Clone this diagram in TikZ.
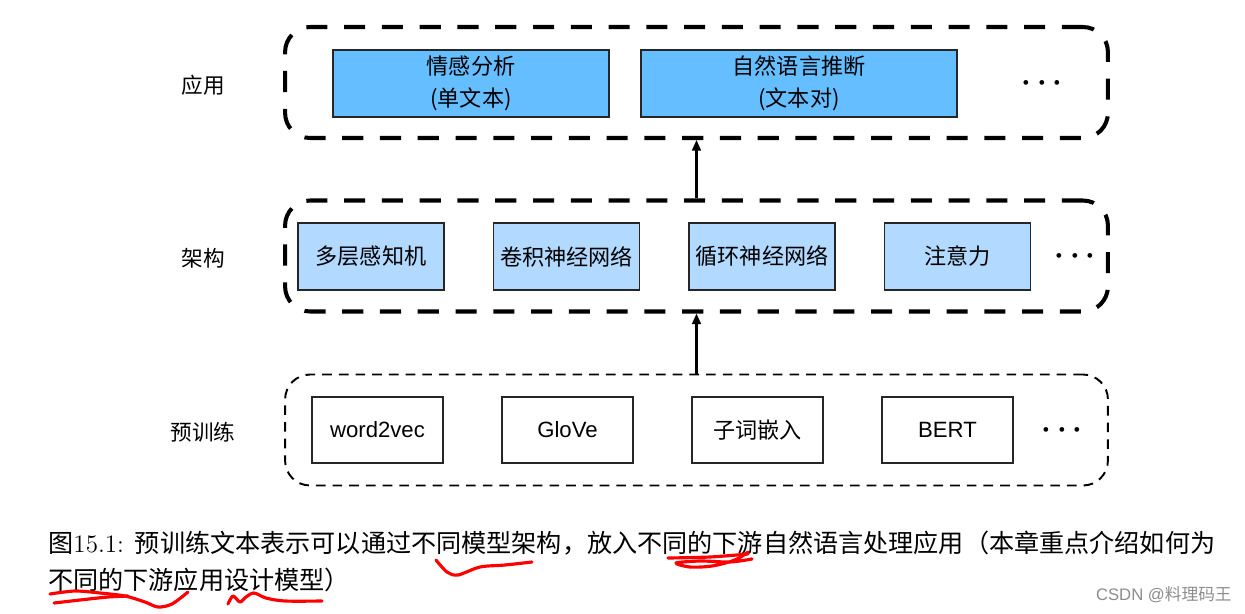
\documentclass[tikz,border=0pt]{standalone}
\usepackage{fontspec}
\setsansfont{Liberation Sans}
\newfontfamily\cjk{Noto Sans CJK SC}
\usetikzlibrary{arrows.meta}
\definecolor{appblue}{RGB}{100,190,255}
\definecolor{archblue}{RGB}{178,217,255}
\tikzset{
  layer/.style={draw,rounded corners=0.5cm,minimum width=16.46cm,minimum height=2.22cm},
  thickdash/.style={line width=2.3pt,dash pattern=on 12pt off 9.5pt},
  thindash/.style={line width=1.1pt,dash pattern=on 5.5pt off 4pt},
  modelbox/.style={draw=black!85,line width=1.1pt,minimum height=1.34cm,align=center,
    font=\sffamily\fontsize{12.6}{18.5}\selectfont},
  side/.style={font=\cjk\fontsize{12.3}{14}\selectfont},
  more/.style={font=\LARGE\boldmath},
  flow/.style={line width=1.2pt,-{Triangle[length=6pt,width=5pt]}},
  ink/.style={red,line width=1.8pt,line cap=round,line join=round}
}
\begin{document}
\begin{tikzpicture}[x=0.02cm,y=-0.02cm]
\useasboundingbox (0,0) rectangle (1245,613);
% layers
\node[layer,thickdash] (app) at (696.5,82.5) {};
\node[layer,thickdash] (arch) at (696.5,256) {};
\node[layer,thindash] (pre) at (696.5,430) {};
\node[side] (lapp) at (203,85) {应用};
\node[side] (larch) at (203,258) {架构};
\node[side] (lpre) at (203,432) {预训练};
% applications
\node[modelbox,fill=appblue,minimum width=5.52cm] (senti) at (471,83.5) {{\cjk 情感分析}\\{\cjk (单文本)}};
\node[modelbox,fill=appblue,minimum width=6.32cm] (nli) at (799,83.5) {{\cjk 自然语言推断}\\{\cjk (文本对)}};
\node[more] (dapp) at (1042,83) {$\cdots$};
% architectures
\foreach \name [count=\i] in {多层感知机,卷积神经网络,循环神经网络,注意力}
  \node[modelbox,fill=archblue,minimum width=2.92cm] (arch\i) at (175.5+195.5*\i,256.5) {\cjk \name};
\node[more] (darch) at (1075,256) {$\cdots$};
% pretraining
\foreach \name [count=\i] in {word2vec,GloVe,{\cjk 子词嵌入},BERT}
  \node[modelbox,minimum width=2.62cm,minimum height=1.32cm] (pre\i) at (187.5+190*\i,430) {\name};
\node[more] (dpre) at (1062,430) {$\cdots$};
\draw[flow] (pre.north) -- (arch.south);
\draw[flow] (arch.north) -- (app.south);
% caption
\node[anchor=west,inner sep=0pt,font=\fontsize{14.3}{18}\selectfont] (cap1) at (48,543)
  {{\cjk 图}15.1: {\cjk 预训练文本表示可以通过不同模型架构，放入不同的下游自然语言处理应用（本章重点介绍如何为}};
\node[anchor=west,inner sep=0pt,font=\cjk\fontsize{14.3}{18}\selectfont] (cap2) at (48,580)
  {不同的下游应用设计模型）};
\node[anchor=east,inner sep=0pt,text=black!45,font=\sffamily\fontsize{9.5}{11}\selectfont] (wm) at (1232,595)
  {CSDN @{\cjk 料理码王}};
% red marks
\draw[ink] plot[smooth] coordinates {(436,560) (447,572) (458,575) (480,567) (505,565) (532,562)};
\draw[ink] plot[smooth] coordinates {(668,558) (710,557) (748,554)};
\draw[ink] plot[smooth] coordinates {(748,552) (735,560) (712,566) (690,567) (676,563) (700,561) (730,562) (752,559)};
\draw[ink] plot[smooth] coordinates {(50,594) (75,591) (100,593) (125,596) (145,602) (158,607) (172,604) (188,592)};
\draw[ink] plot[smooth] coordinates {(54,603) (80,600) (108,597) (128,596)};
\draw[ink] plot[smooth] coordinates {(228,604) (233,596) (240,602) (246,597) (254,593) (266,598) (285,601) (322,601)};
\end{tikzpicture}
\end{document}
